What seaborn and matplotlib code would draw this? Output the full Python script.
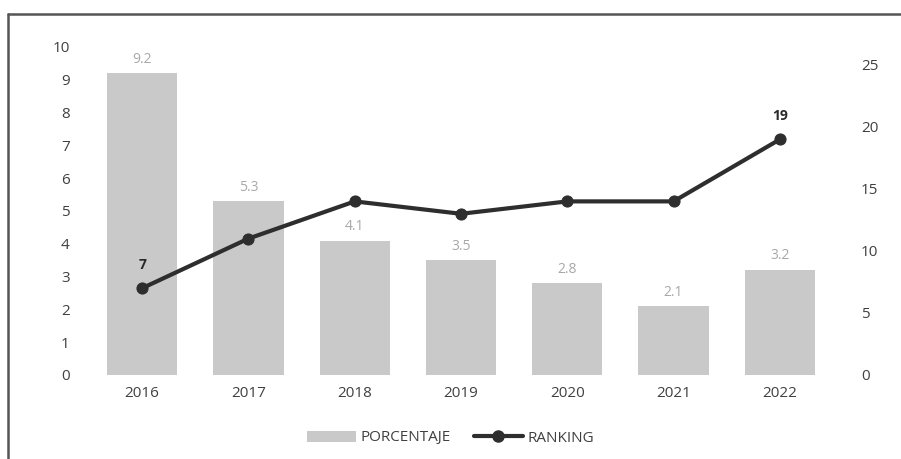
import matplotlib
matplotlib.use("Agg")
import matplotlib.pyplot as plt
import seaborn as sns
import pandas as pd
from matplotlib.patches import Patch
from matplotlib.lines import Line2D

years = ["2016", "2017", "2018", "2019", "2020", "2021", "2022"]
porcentaje = [9.2, 5.3, 4.1, 3.5, 2.8, 2.1, 3.2]
ranking = [7, 11, 14, 13, 14, 14, 19]
left_ticks = list(range(0, 11))
right_ticks = [0, 5, 10, 15, 20, 25]

sns.set_theme(style="white")
plt.rcParams['font.family'] = ['Open Sans', 'DejaVu Sans']

df = pd.DataFrame({"year": years, "pct": porcentaje, "rank": ranking})

fig = plt.figure(figsize=(9.01, 4.59), dpi=100)
ax = fig.add_axes([89/901, 1 - 375/459, (833-89)/901, (375-47)/459])

bar_color = "#c9c9c9"
sns.barplot(data=df, x="year", y="pct", color=bar_color, width=0.66, ax=ax,
            saturation=1, edgecolor="none")
ax.set_ylim(0, 10)
ax.set_yticks(left_ticks)
ax.set_xlabel("")
ax.set_ylabel("")
for s in ax.spines.values():
    s.set_visible(False)
ax.tick_params(axis="y", length=0, labelsize=11, colors="#404040", pad=14)
ax.tick_params(axis="x", length=0, labelsize=11, colors="#404040", pad=8)

for i, v in enumerate(porcentaje):
    ax.text(i, v + 0.2, f"{v}", ha="center", va="bottom", fontsize=10, color="#a8a8a8")

ax2 = ax.twinx()
sns.lineplot(data=df, x="year", y="rank", ax=ax2, color="#2e2e2e", linewidth=3,
             marker="o", markersize=8, markeredgecolor="#2e2e2e", sort=False)
ax2.set_ylim(0, 26.45)
ax2.set_yticks(right_ticks)
ax2.set_ylabel("")
for s in ax2.spines.values():
    s.set_visible(False)
ax2.tick_params(axis="y", length=0, labelsize=11, colors="#404040", pad=20)
ax.set_xlim(-0.5, 6.5)

for idx in [0, 6]:
    ax2.text(idx, ranking[idx] + 1.3, f"{ranking[idx]}", ha="center", va="bottom",
             fontsize=10, fontweight="bold", color="#2a2a2a")

handles = [Patch(facecolor=bar_color, edgecolor="none", label="PORCENTAJE"),
           Line2D([0], [0], color="#2e2e2e", lw=3, marker="o", markersize=8, label="RANKING")]
fig.legend(handles=handles, loc="center", bbox_to_anchor=(0.5, 1 - 438/459), ncol=2,
           frameon=False, fontsize=11, handlelength=3.2, columnspacing=1.5,
           handletextpad=0.3, labelcolor="#404040")

# scanned frame: top and left edges
fig.add_artist(Line2D([8/901, 1.0], [1 - 14/459, 1 - 14/459], transform=fig.transFigure,
                      color="#555555", linewidth=1.8))
fig.add_artist(Line2D([8/901, 8/901], [0.0, 1 - 14/459], transform=fig.transFigure,
                      color="#555555", linewidth=1.8))

fig.savefig("out.png", dpi=100)
